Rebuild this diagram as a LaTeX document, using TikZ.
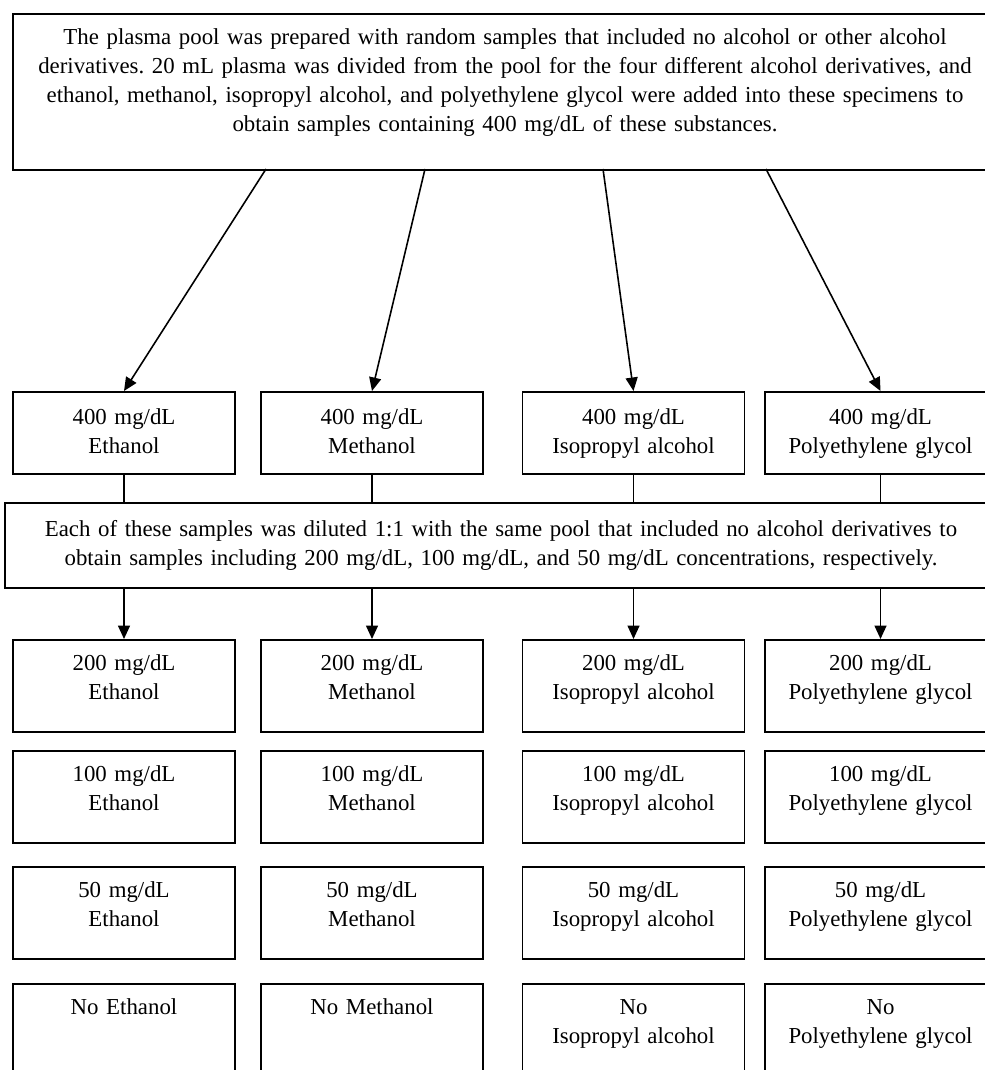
\documentclass[tikz,border=0pt]{standalone}
\usepackage{fontspec}
\setmainfont{Liberation Serif}
\usetikzlibrary{arrows.meta}
\frenchspacing

\begin{document}
\begin{tikzpicture}[
    font=\fontsize{13}{16.5}\selectfont,
    line width=0.9pt,
    >={Triangle[length=0.27cm, width=0.24cm]},
    box/.style={draw, align=center, inner xsep=0.1cm, inner ysep=0pt},
    conc/.style={box, anchor=north, text width=4.24cm, text height=0.66cm, text depth=0.98cm},
    cell/.style={box, anchor=north, text width=4.24cm, text height=0.62cm, text depth=1.22cm},
    wide/.style={text width=4.42cm}
  ]
  \useasboundingbox (0,0) rectangle (19.7,-21.4);
  \clip (0,0) rectangle (19.7,-21.4);

  % top box
  \node[box, anchor=north, text width=19.48cm, text height=0.62cm, text depth=2.5cm] (pool) at (10.1,-0.26)
    {The plasma pool was prepared with random samples that included no alcohol or other alcohol\\
     derivatives. 20 mL plasma was divided from the pool for the four different alcohol derivatives, and\\
     ethanol, methanol, isopropyl alcohol, and polyethylene glycol were added into these specimens to\\
     obtain samples containing 400 mg/dL of these substances.};

  \coordinate (p1) at (5.32,-3.38);
  \coordinate (p2) at (8.5,-3.38);
  \coordinate (p3) at (12.06,-3.38);
  \coordinate (p4) at (15.32,-3.38);

  % 400 mg/dL
  \node[conc] (e400) at (2.48,-7.82) {400 mg/dL\\Ethanol};
  \node[conc] (m400) at (7.44,-7.82) {400 mg/dL\\Methanol};
  \node[conc] (i400) at (12.67,-7.82) {400 mg/dL\\Isopropyl alcohol};
  \node[conc, wide] (p400) at (17.61,-7.82) {400 mg/dL\\Polyethylene glycol};

  \draw[->] (p1) -- (e400.north);
  \draw[->] (p2) -- (m400.north);
  \draw[->] (p3) -- (i400.north);
  \draw[->] (p4) -- (p400.north);

  % dilution
  \node[box, text width=19.64cm, minimum height=1.7cm] (dil) at (10.02,-10.91)
    {Each of these samples was diluted 1:1 with the same pool that included no alcohol derivatives to\\
     obtain samples including 200 mg/dL, 100 mg/dL, and 50 mg/dL concentrations, respectively.};

  \draw (e400.south) -- (e400.south |- dil.north);
  \draw (m400.south) -- (m400.south |- dil.north);
  \draw (i400.south) -- (i400.south |- dil.north);
  \draw (p400.south) -- (p400.south |- dil.north);

  % 200 mg/dL
  \node[cell] (e200) at (2.48,-12.78) {200 mg/dL\\Ethanol};
  \node[cell] (m200) at (7.44,-12.78) {200 mg/dL\\Methanol};
  \node[cell] (i200) at (12.67,-12.78) {200 mg/dL\\Isopropyl alcohol};
  \node[cell, wide] (p200) at (17.61,-12.78) {200 mg/dL\\Polyethylene glycol};

  \draw[->] (dil.south -| e200.north) -- (e200.north);
  \draw[->] (dil.south -| m200.north) -- (m200.north);
  \draw[->] (dil.south -| i200.north) -- (i200.north);
  \draw[->] (dil.south -| p200.north) -- (p200.north);

  % 100 mg/dL
  \node[cell] (e100) at (2.48,-15.0) {100 mg/dL\\Ethanol};
  \node[cell] (m100) at (7.44,-15.0) {100 mg/dL\\Methanol};
  \node[cell] (i100) at (12.67,-15.0) {100 mg/dL\\Isopropyl alcohol};
  \node[cell, wide] (p100) at (17.61,-15.0) {100 mg/dL\\Polyethylene glycol};

  % 50 mg/dL
  \node[cell] (e50) at (2.48,-17.32) {50 mg/dL\\Ethanol};
  \node[cell] (m50) at (7.44,-17.32) {50 mg/dL\\Methanol};
  \node[cell] (i50) at (12.67,-17.32) {50 mg/dL\\Isopropyl alcohol};
  \node[cell, wide] (p50) at (17.61,-17.32) {50 mg/dL\\Polyethylene glycol};

  % blanks
  \node[cell] (e0) at (2.48,-19.66) {No Ethanol};
  \node[cell] (m0) at (7.44,-19.66) {No Methanol};
  \node[cell] (i0) at (12.67,-19.66) {No\\Isopropyl alcohol};
  \node[cell, wide] (p0) at (17.61,-19.66) {No\\Polyethylene glycol};
\end{tikzpicture}
\end{document}
